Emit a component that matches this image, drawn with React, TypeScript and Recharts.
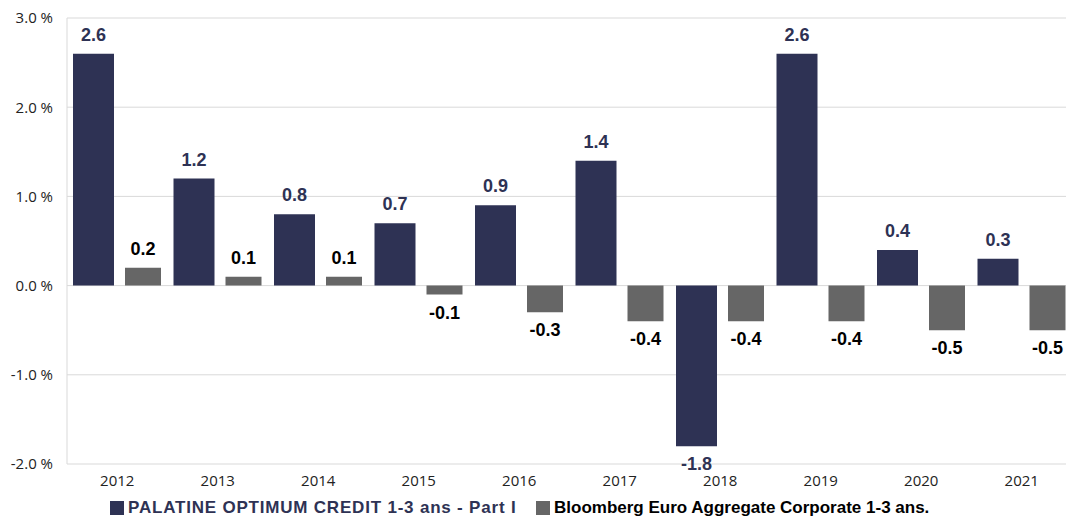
import { Bar, BarChart, CartesianGrid, LabelList, Legend, XAxis, YAxis } from 'recharts';

const years = ['2012', '2013', '2014', '2015', '2016', '2017', '2018', '2019', '2020', '2021'];
const palatine = [2.6, 1.2, 0.8, 0.7, 0.9, 1.4, -1.8, 2.6, 0.4, 0.3];
const bloomberg = [0.2, 0.1, 0.1, -0.1, -0.3, -0.4, -0.4, -0.4, -0.5, -0.5];
const yTicks = [-2, -1, 0, 1, 2, 3];

const NAVY = '#2E3254';
const GRAY = '#666666';

const data = years.map((year, i) => ({ year, palatine: palatine[i], bloomberg: bloomberg[i] }));

const makeLabel = (color: string) => (props: any) => {
  const { x, y, width, height, value } = props;
  const top = Math.min(y, y + height);
  const bottom = Math.max(y, y + height);
  const ty = value >= 0 ? top - 13 : bottom + 24;
  return (
    <text
      x={x + width / 2}
      y={ty}
      textAnchor="middle"
      fill={color}
      fontFamily="'Liberation Sans', Arial, sans-serif"
      fontWeight="bold"
      fontSize={18}
    >
      {Number(value).toFixed(1)}
    </text>
  );
};

const legendItems = [
  { label: 'PALATINE OPTIMUM CREDIT 1-3 ans - Part I', color: NAVY, text: NAVY, left: 110, spacing: 0.8 },
  { label: 'Bloomberg Euro Aggregate Corporate 1-3 ans.', color: GRAY, text: '#000000', left: 536, spacing: 0 },
];

const ChartLegend = () => (
  <div
    style={{
      position: 'relative',
      height: 30,
      fontFamily: "'Liberation Sans', Arial, sans-serif",
      fontWeight: 'bold',
      fontSize: 17,
    }}
  >
    {legendItems.map((item) => (
      <div
        key={item.label}
        style={{ position: 'absolute', left: item.left, top: 8, height: 20, display: 'flex', alignItems: 'center' }}
      >
        <span style={{ width: 14, height: 14, background: item.color, marginRight: 4 }} />
        <span style={{ color: item.text, letterSpacing: item.spacing, whiteSpace: 'nowrap' }}>{item.label}</span>
      </div>
    ))}
  </div>
);

export default function App() {
  return (
    <div style={{ position: 'absolute', left: 0, top: 0, width: 1066, height: 520, overflow: 'hidden', background: '#fff' }}>
      <BarChart
        width={1072}
        height={520}
        data={data}
        margin={{ top: 18, right: 0, bottom: 0, left: 0 }}
        barGap={11}
      >
        <CartesianGrid vertical={false} stroke="#D9D9D9" />
        <XAxis
          dataKey="year"
          height={26}
          axisLine={false}
          tickLine={false}
          tickMargin={5}
          tick={{ fill: '#222', fontSize: 15, fontFamily: "'Open Sans', sans-serif" }}
        />
        <YAxis
          width={67}
          domain={[-2, 3]}
          ticks={yTicks}
          tickFormatter={(v: number) => `${v.toFixed(1)} %`}
          axisLine={{ stroke: '#D9D9D9' }}
          tickLine={false}
          tickMargin={8}
          tick={{ fill: '#222', fontSize: 15, fontFamily: "'Open Sans', sans-serif" }}
        />
        <Legend verticalAlign="bottom" content={() => <ChartLegend />} />
        <Bar dataKey="palatine" fill={NAVY} barSize={41} isAnimationActive={false}>
          <LabelList dataKey="palatine" content={makeLabel(NAVY)} />
        </Bar>
        <Bar dataKey="bloomberg" fill={GRAY} barSize={36} isAnimationActive={false}>
          <LabelList dataKey="bloomberg" content={makeLabel('#000000')} />
        </Bar>
      </BarChart>
    </div>
  );
}
